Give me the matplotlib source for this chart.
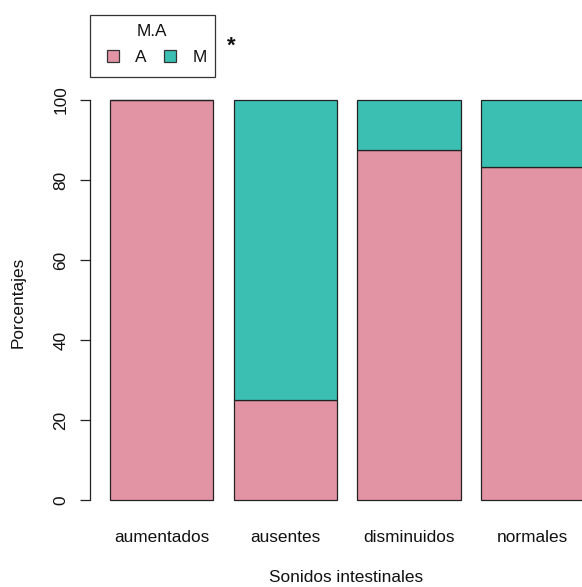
import matplotlib
matplotlib.use("Agg")
import matplotlib.pyplot as plt
from matplotlib.patches import Rectangle

plt.rcParams['font.family'] = ['Liberation Sans', 'DejaVu Sans']

categories = ["aumentados", "ausentes", "disminuidos", "normales"]
pct_A = [100.0, 25.0, 87.5, 83.33]
pct_M = [0.0, 75.0, 12.5, 16.67]
series_names = ["A", "M"]
legend_title = "M.A"
colors = ["#E294A5", "#3BBFB3"]

W, H = 582, 587
dpi = 100
fs = 12.4
fig = plt.figure(figsize=(W / dpi, H / dpi), dpi=dpi)

def px_x(x):
    return x / W

def px_y(y):
    return 1 - y / H

# plotting region: y axis at x=90px, 0 at y=500px, 100 at y=100px
ax = fig.add_axes([px_x(90), px_y(500), px_x(W - 90), 400 / H])
ax.set_xlim(0.006, 4.778)
ax.set_ylim(0, 100)

centers = [0.7 + 1.2 * i for i in range(len(categories))]
ax.bar(centers, pct_A, width=1.0, color=colors[0], edgecolor="#222222",
       linewidth=0.9, clip_on=False)
ax.bar(centers, pct_M, width=1.0, bottom=pct_A, color=colors[1],
       edgecolor="#222222", linewidth=0.9, clip_on=False)

for s in ["top", "right", "bottom"]:
    ax.spines[s].set_visible(False)
ax.spines["left"].set_linewidth(0.9)
ax.spines["left"].set_color("#222222")

ax.set_yticks([0, 20, 40, 60, 80, 100])
ax.set_yticklabels(["0", "20", "40", "60", "80", "100"], rotation=90,
                   va="center", fontsize=fs)
ax.tick_params(axis="y", length=7.2, width=0.9, pad=8.5, colors="#222222",
               labelcolor="#111111")

ax.set_xticks(centers)
ax.set_xticklabels(categories, fontsize=fs, color="#111111")
ax.tick_params(axis="x", length=0, pad=21.5)

fig.text(px_x(18), px_y(302), "Porcentajes", rotation=90, ha="center",
         va="center", fontsize=fs, color="#111111")
fig.text(px_x(346), px_y(578), "Sonidos intestinales", ha="center",
         va="center", fontsize=fs, color="#111111")

# legend box drawn in pixel coordinates, above the plotting region
fig.patches.append(Rectangle((px_x(90), px_y(77)), px_x(125), 62 / H,
                             transform=fig.transFigure, facecolor="white",
                             edgecolor="#333333", linewidth=0.9))
fig.text(px_x(152), px_y(31), legend_title, ha="center", va="center",
         fontsize=fs, color="#111111")
key_x = [107, 164]
label_x = [140.5, 200]
for name, col, kx, lx in zip(series_names, colors, key_x, label_x):
    fig.patches.append(Rectangle((px_x(kx), px_y(62)), px_x(12), 12 / H,
                                 transform=fig.transFigure, facecolor=col,
                                 edgecolor="#333333", linewidth=0.9))
    fig.text(px_x(lx), px_y(57), name, ha="center", va="center",
             fontsize=fs, color="#111111")

fig.text(px_x(231), px_y(46), "*", ha="center", va="center", fontsize=16,
         fontweight="bold", color="#111111")

fig.savefig("out.png", dpi=dpi)
